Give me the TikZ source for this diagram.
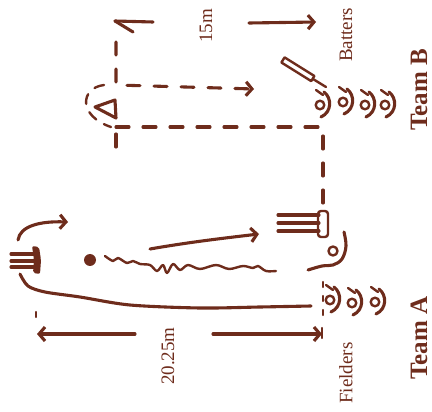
\documentclass[tikz,border=0pt]{standalone}
\usepackage{fontspec}
\setmainfont{Liberation Serif}
\usetikzlibrary{arrows.meta}
\definecolor{ink}{RGB}{110,44,28}
\begin{document}
\begin{tikzpicture}[x=1pt,y=-1pt,
  pen/.style={draw=ink,line width=3.1pt,line cap=round,line join=round},
  fine pen/.style={draw=ink,line width=2.4pt,line cap=round,line join=round},
  dash line/.style={pen,dash pattern=on 13pt off 14pt},
  dot line/.style={fine pen,dash pattern=on 5pt off 9pt},
  barb/.style={-{Straight Barb[length=6pt,width=14pt]}},
  lbl/.style={text=ink,font=\fontsize{19}{19}\selectfont,rotate=90,inner sep=0pt},
  team/.style={text=ink,font=\bfseries\fontsize{25}{25}\selectfont,rotate=90,inner sep=0pt},
  player/.pic={
    \draw[fine pen] (-1,1) circle (4.3);
    \draw[pen] (3,-12) .. controls (11,-6) and (11,8) .. (0,13);
    \draw[fine pen] (-5,-14) -- (2,-9);
  }
]
\useasboundingbox (0,0) rectangle (432,412);

% ---------- Team B end ----------
% 15 m dimension
\coordinate (dimBl) at (115,21);
\coordinate (dimBr) at (316,22);
\draw[pen] (dimBl) -- (153,22);
\draw[pen] (dimBl) -- (133,32);
\draw[pen,barb] (249,23) -- (dimBr);
\node[lbl] (fifteen) at (206,26) {15m};

% running lanes
\coordinate (laneTop) at (116,42);
\coordinate (laneCorner) at (116,85);
\coordinate (laneEnd) at (254,89);
\draw[dash line,barb] (laneTop) -- (laneCorner) -- (laneEnd);
\coordinate (lowL) at (116,127);
\coordinate (lowR) at (318,127);
\draw[dash line] (lowL) -- (lowR);
\draw[dash line] (323,136) -- (323,204);
\draw[dash line] (116,134) -- (116,147);
\draw[dot line] (323,282) -- (323,320);

% base marker and its loop
\draw[pen] (95,107) -- (115,100) -- (116,118) -- cycle;
\draw[fine pen,dash pattern=on 10pt off 9pt]
  (104,85) .. controls (80,88) and (78,116) .. (111,127);

% batter with bat
\draw[fine pen] (284.6,57.4) -- (314.4,76.0) -- (311.2,81.1) -- (281.4,62.5) -- cycle;
\draw[fine pen] (313,79) -- (326,87);
\pic at (321,104) {player};
\pic at (344,101) {player};
\pic at (366,104) {player};
\pic at (386,104) {player};
\node[lbl] (batters) at (346,35) {Batters};
\node[team] (teamB) at (419,90) {Team B};

% ---------- Team A end ----------
% bowling stumps
\foreach \yy in {254,261,267} \draw[pen] (11,\yy) -- (35,\yy);
\fill[ink,rounded corners=2pt] (32,246) -- (39,247) -- (41,260) -- (40,274) -- (33,273) -- (34,260) -- cycle;
\draw[pen,barb] (18,240) .. controls (20,226) and (40,221) .. (68,222);
\draw[pen] plot[smooth,tension=0.5] coordinates
  {(20,274) (28,286) (45,292) (80,297) (130,305) (200,308) (260,307) (311,306)};

% ball and its path
\fill[ink] (90,260) circle (6);
\draw[fine pen] plot[smooth,tension=0.55] coordinates
  {(105,256) (113,261) (118,258) (127,263) (133,261) (140,264) (150,265) (157,271)
   (163,265) (167,273) (173,264) (180,270) (188,265) (200,269) (216,265) (229,269)
   (243,266) (253,268) (258,266) (266,271) (276,271)};
\draw[pen,barb] (150,249) .. controls (190,242) and (225,238) .. (259,234);

% batting stumps
\foreach \yy in {215,223,231} \draw[pen] (278,\yy) -- (319,\yy);
\draw[fine pen,rounded corners=3pt] (318,211) rectangle (328,237);

% bowler
\draw[pen] plot[smooth,tension=0.6] coordinates
  {(344,232) (346,246) (342,259) (333,265) (322,266) (308,270)};
\draw[fine pen] (333,251) circle (4.5);

% fielders
\pic at (331,299) {player};
\pic at (353,302) {player};
\pic at (376,301) {player};
\node[lbl] (fielders) at (346,373) {Fielders};
\node[team] (teamA) at (419,338) {Team A};

% 20.25 m dimension
\coordinate (dimAl) at (37,334);
\coordinate (dimAr) at (322,334);
\draw[dot line] (36,312) -- (36,324);
\draw[pen,barb] (135,334) -- (dimAl);
\draw[pen,barb] (213,334) -- (dimAr);
\draw[fine pen] (322,328) -- (322,338);
\node[lbl] (twenty) at (168,356) {20.25m};
\end{tikzpicture}
\end{document}
